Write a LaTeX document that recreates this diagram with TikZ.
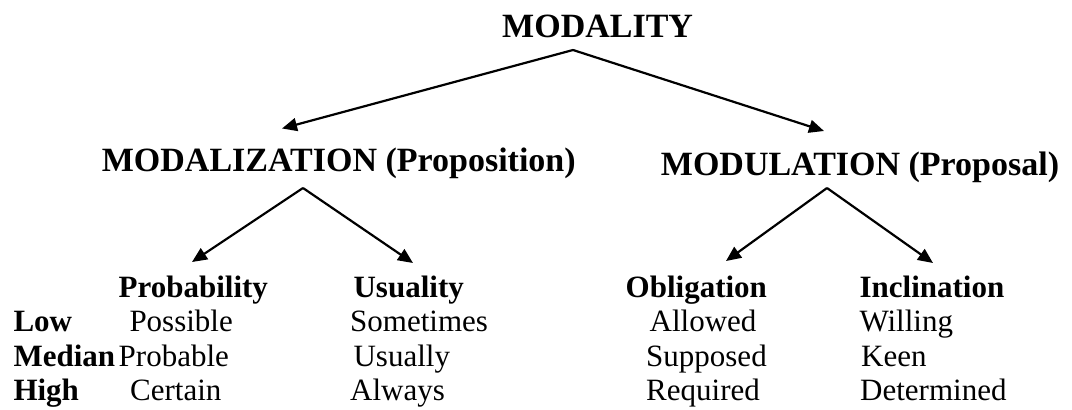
\documentclass[tikz,border=0pt]{standalone}
\usepackage{fontspec}
\setmainfont{Liberation Serif}
\usetikzlibrary{arrows.meta}
\begin{document}
\begin{tikzpicture}[x=1pt,y=-1pt,
  head/.style={anchor=base west,inner sep=0pt,font=\fontsize{34}{40}\selectfont\bfseries},
  colhead/.style={anchor=base west,inner sep=0pt,font=\fontsize{31}{36}\selectfont\bfseries},
  cell/.style={anchor=base west,inner sep=0pt,font=\fontsize{31}{36}\selectfont},
  link/.style={line width=2.2pt,-{Triangle[length=15pt,width=13pt]}}]
\useasboundingbox (0,0) rectangle (1072,410);
% headings
\node[head] (modality) at (502,37.3) {MODALITY};
\node[head] (modalization) at (101.7,171.5) {MODALIZATION (Proposition)};
\node[head] (modulation) at (660.7,175.7) {MODULATION (Proposal)};
% column headings
\node[colhead] (prob) at (118.5,297.3) {Probability};
\node[colhead] (usu) at (353.4,297.3) {Usuality};
\node[colhead] (obl) at (625.5,297.3) {Obligation};
\node[colhead] (incl) at (859.4,297.3) {Inclination};
% row labels
\node[colhead] (low) at (13.3,331.7) {Low};
\node[colhead] (median) at (13.3,366.5) {Median};
\node[colhead] (high) at (13.3,400) {High};
% cells
\node[cell] at (129.3,331.7) {Possible};
\node[cell] at (118.5,366.5) {Probable};
\node[cell] at (130,400) {Certain};
\node[cell] at (350,331.7) {Sometimes};
\node[cell] at (353.4,366.5) {Usually};
\node[cell] at (350,400) {Always};
\node[cell] at (649.5,331.7) {Allowed};
\node[cell] at (646,366.5) {Supposed};
\node[cell] at (646,400) {Required};
\node[cell] at (859.4,331.7) {Willing};
\node[cell] at (861,366.5) {Keen};
\node[cell] at (860,400) {Determined};
% connector points
\coordinate (a0) at (573,50);
\coordinate (t1) at (282,128.5);
\coordinate (t2) at (824,131);
\coordinate (a1) at (303,188);
\coordinate (t3) at (192,262);
\coordinate (t4) at (413,263);
\coordinate (a2) at (827,188);
\coordinate (t5) at (726,261);
\coordinate (t6) at (933,263);
\draw[link] (a0) -- (t1);
\draw[link] (a0) -- (t2);
\draw[link] (a1) -- (t3);
\draw[link] (a1) -- (t4);
\draw[link] (a2) -- (t5);
\draw[link] (a2) -- (t6);
\end{tikzpicture}
\end{document}
